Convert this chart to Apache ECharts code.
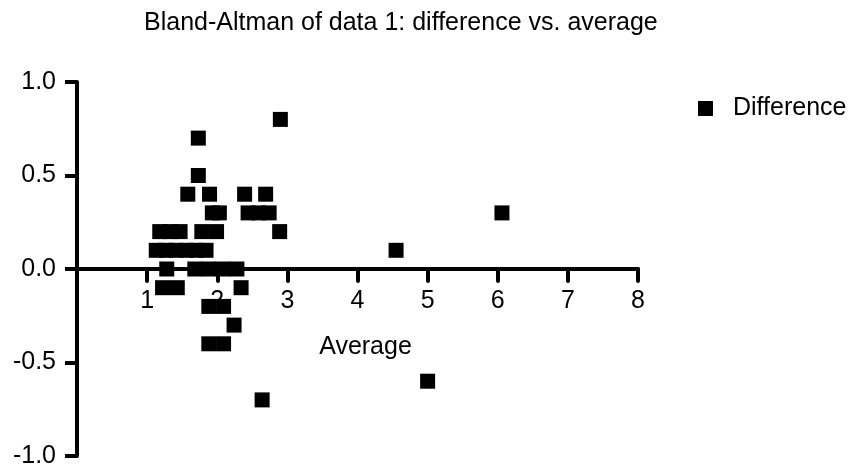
<!DOCTYPE html>
<html>
<head>
<meta charset="utf-8">
<script src="https://cdn.jsdelivr.net/npm/echarts@6/dist/echarts.min.js"></script>
<style>html,body{margin:0;padding:0;background:#fff}#c{width:853px;height:471px}</style>
</head>
<body>
<div id="c"></div>
<script>
const titleText = 'Bland-Altman of data 1: difference vs. average';
const xName = 'Average';
const seriesName = 'Difference';
const average = [2.9, 1.73, 1.73, 1.58, 1.89, 2.39, 2.69, 1.93, 2.03, 2.44, 2.59, 2.74, 1.18, 1.33, 1.47, 1.78, 1.99, 2.89, 1.13, 1.27, 1.41, 1.56, 1.70, 1.84, 4.55, 1.28, 1.68, 1.88, 2.08, 2.28, 1.22, 1.43, 2.34, 1.88, 2.09, 2.24, 1.88, 2.09, 2.64, 5.0, 6.06];
const difference = [0.8, 0.7, 0.5, 0.4, 0.4, 0.4, 0.4, 0.3, 0.3, 0.3, 0.3, 0.3, 0.2, 0.2, 0.2, 0.2, 0.2, 0.2, 0.1, 0.1, 0.1, 0.1, 0.1, 0.1, 0.1, 0.0, 0.0, 0.0, 0.0, 0.0, -0.1, -0.1, -0.1, -0.2, -0.2, -0.3, -0.4, -0.4, -0.7, -0.6, 0.3];
const xTicks = [1, 2, 3, 4, 5, 6, 7, 8];
const yTicks = [-1.0, -0.5, 0.0, 0.5, 1.0];

const font = 'Liberation Sans, Arial, sans-serif';
const gridTop = 82, gridBottom = 15, H = 471;
const plotH = H - gridTop - gridBottom;
const yMin = yTicks[0], yMax = yTicks[yTicks.length - 1];
// shift the x axis up so it sits on y = 0
const xOffset = -plotH * (0 - yMin) / (yMax - yMin);
const chart = echarts.init(document.getElementById('c'));
const pts = average.map((a, i) => [a, difference[i]]);
chart.setOption({
  backgroundColor: '#fff',
  animation: false,
  title: {
    text: titleText, left: 144, top: 11, padding: 0,
    textStyle: {fontFamily: font, fontSize: 25, fontWeight: 'normal', color: '#000'}
  },
  legend: {
    data: [{name: seriesName, icon: 'rect'}],
    left: 698, top: 96, padding: 0,
    itemWidth: 15, itemHeight: 15,
    textStyle: {fontFamily: font, fontSize: 25, color: '#000', padding: [0, 0, 0, 15]}
  },
  grid: {left: 77, right: 215, top: gridTop, bottom: gridBottom, containLabel: false, outerBoundsMode: 'none'},
  xAxis: {
    type: 'value', min: 0, max: xTicks[xTicks.length - 1], interval: 1,
    offset: xOffset,
    name: xName, nameLocation: 'middle', nameGap: 66,
    nameTextStyle: {fontFamily: font, fontSize: 25, color: '#000', padding: [0, 0, 0, 16]},
    axisLine: {onZero: false, lineStyle: {color: '#000', width: 4}},
    axisTick: {show: true, length: 12, lineStyle: {color: '#000', width: 4, cap: 'round'}},
    axisLabel: {
      fontFamily: font, fontSize: 25, color: '#000', margin: 20,
      formatter: v => xTicks.includes(v) ? String(v) : ''
    },
    splitLine: {show: false}
  },
  yAxis: {
    type: 'value', min: yMin, max: yMax, interval: 0.5,
    axisLine: {onZero: false, lineStyle: {color: '#000', width: 4}},
    axisTick: {show: true, length: 12, lineStyle: {color: '#000', width: 4}},
    axisLabel: {fontFamily: font, fontSize: 25, color: '#000', margin: 21, formatter: v => v.toFixed(1)},
    splitLine: {show: false}
  },
  series: [{
    name: seriesName, type: 'scatter', symbol: 'rect', symbolSize: 15,
    itemStyle: {color: '#000', opacity: 1},
    data: pts
  }]
});
</script>
</body>
</html>
